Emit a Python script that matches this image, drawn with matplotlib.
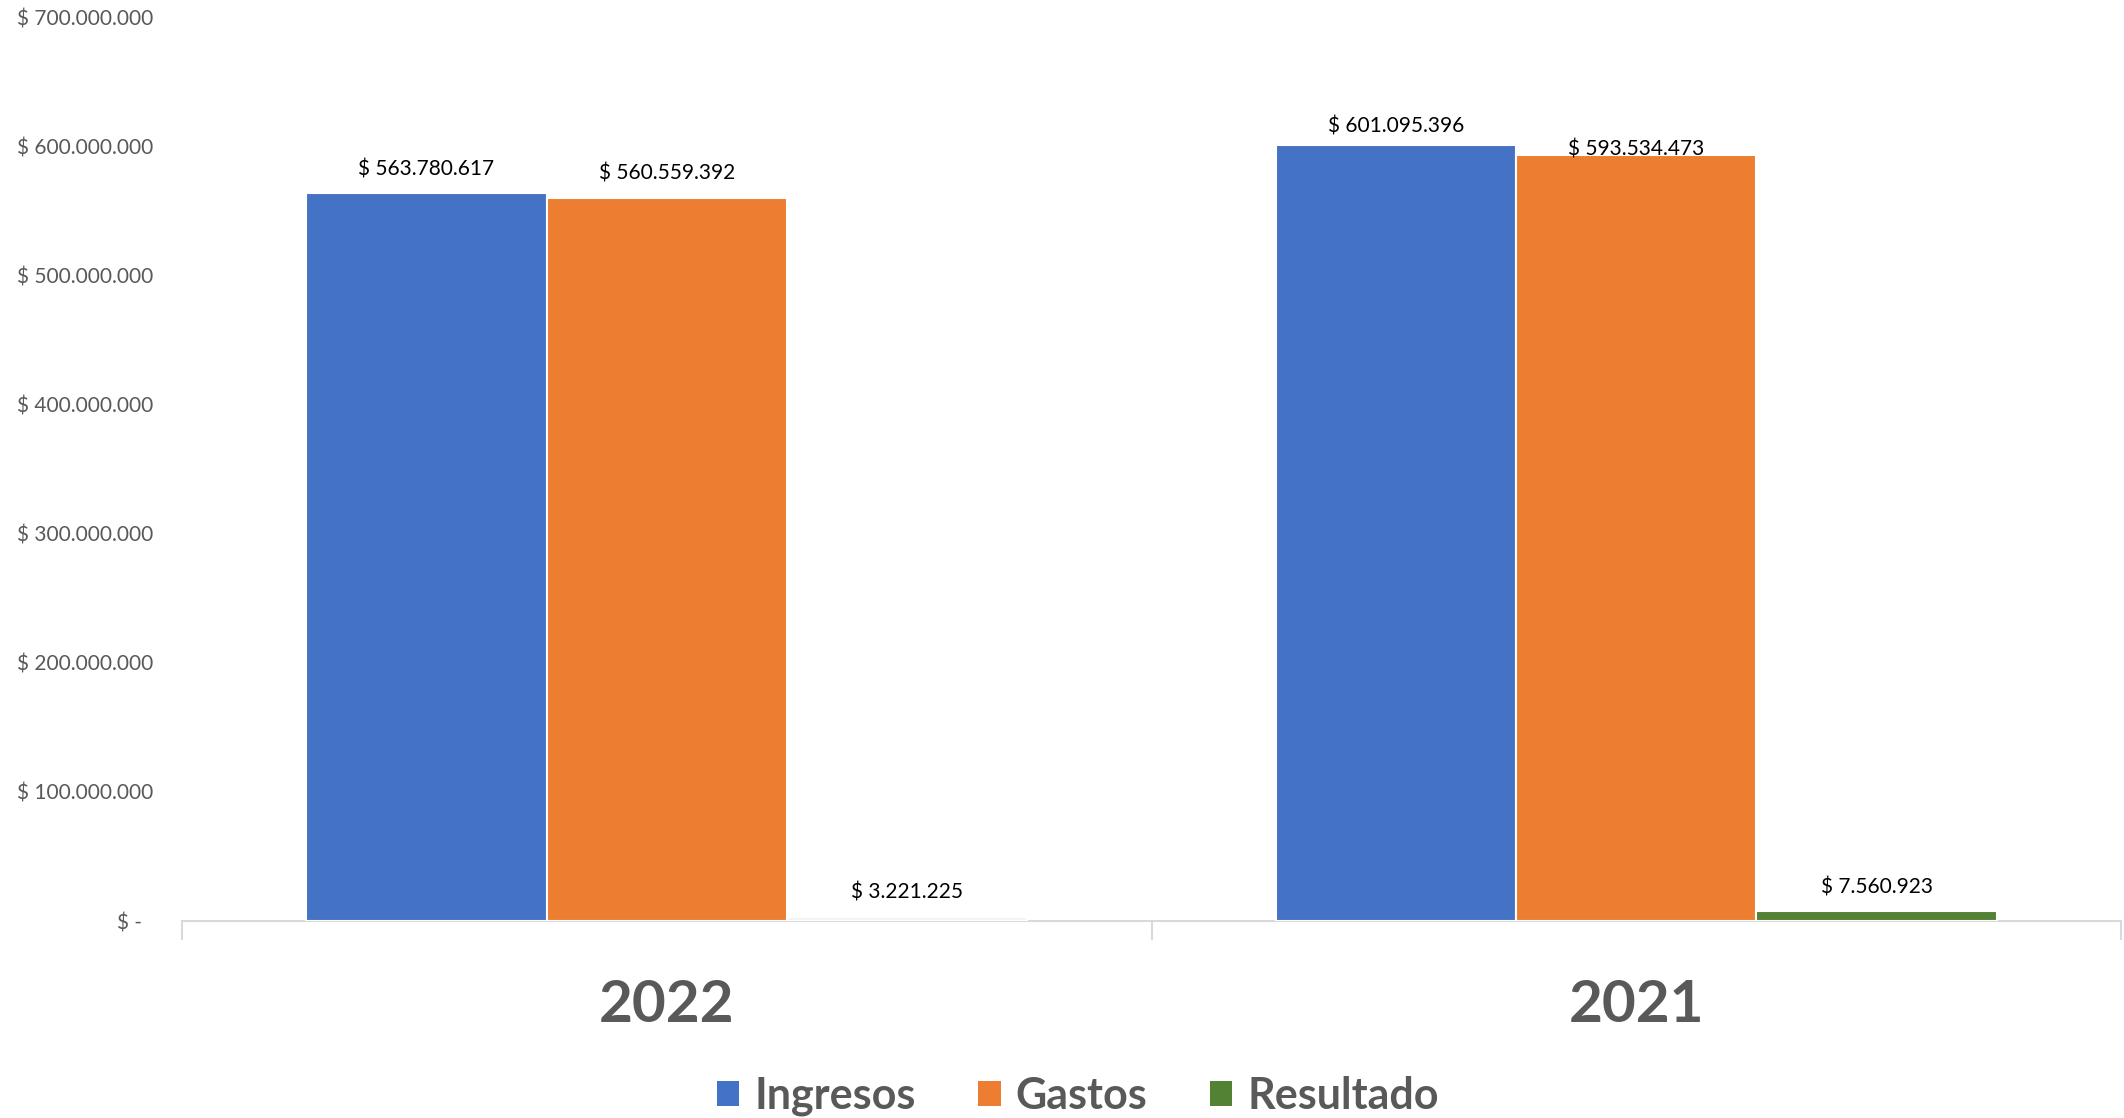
import numpy as np
import matplotlib.pyplot as plt
from matplotlib.patches import Patch

# Datos
years = ["2022", "2021"]
ingresos = [563780617, 601095396]
gastos = [560559392, 593534473]
resultado = [3221225, 7560923]
series_names = ["Ingresos", "Gastos", "Resultado"]
y_ticks = [0, 100000000, 200000000, 300000000, 400000000, 500000000, 600000000, 700000000]


def fmt_money(v):
    if v == 0:
        return "$ -  "
    return "$ " + f"{v:,.0f}".replace(",", ".")


plt.rcParams["font.family"] = ["Lato", "DejaVu Sans"]

fig = plt.figure(figsize=(21.24, 11.18), dpi=100)
ax = fig.add_axes([0.0857, 0.1762, 0.9129, 0.8081])

x = np.arange(len(years))
w = 0.248
colors = ["#4472C4", "#ED7D31", "#548235"]
# la barra de Resultado 2022 aparece casi sin relleno en el original
res_colors = ["#F4F4F4", "#548235"]

series = [ingresos, gastos, resultado]
label_offsets = [[10, 6], [10, -3], [10, 10]]  # puntos sobre la barra

for i, vals in enumerate(series):
    fc = res_colors if i == 2 else colors[i]
    bars = ax.bar(x + (i - 1) * w, vals, width=w, color=fc,
                  edgecolor="white", linewidth=1.5, zorder=2)
    for j, b in enumerate(bars):
        ax.annotate(fmt_money(vals[j]),
                    (b.get_x() + b.get_width() / 2, b.get_height()),
                    xytext=(0, label_offsets[i][j]), textcoords="offset points",
                    ha="center", va="bottom", fontsize=15, color="black")

ax.set_xlim(-0.5, 1.5)
ax.set_ylim(0, 700000000)
ax.set_yticks(y_ticks)
ax.set_yticklabels([fmt_money(v) for v in y_ticks], fontsize=15, color="#595959")
ax.tick_params(axis="y", length=0, pad=21)

ax.set_xticks(x)
ax.set_xticklabels(years, fontsize=42, fontweight="bold", color="#595959")
ax.tick_params(axis="x", length=0, pad=42)
ax.set_xticks([-0.5, 0.5, 1.5], minor=True)
ax.tick_params(axis="x", which="minor", length=14, width=1.5, color="#D9D9D9")

for s in ["top", "right", "left"]:
    ax.spines[s].set_visible(False)
ax.spines["bottom"].set_color("#D9D9D9")
ax.spines["bottom"].set_linewidth(1.5)
ax.spines["bottom"].set_zorder(1)

handles = [Patch(facecolor=c, label=n) for c, n in zip(colors, series_names)]
leg = fig.legend(handles=handles, loc="center", bbox_to_anchor=(0.5075, 0.0195),
                 ncol=3, frameon=False, handlelength=0.52, handleheight=0.52,
                 handletextpad=0.35, columnspacing=1.45,
                 prop={"size": 31, "weight": "bold"})
for t in leg.get_texts():
    t.set_color("#595959")

plt.savefig("out.png", dpi=100)
